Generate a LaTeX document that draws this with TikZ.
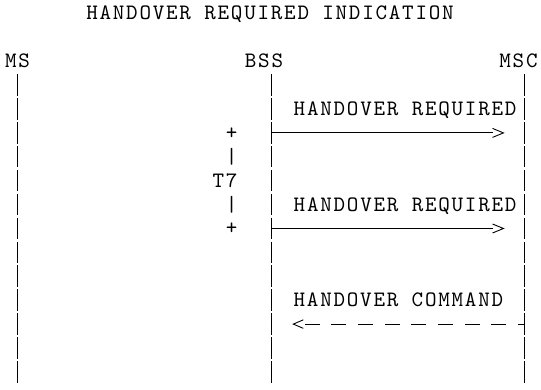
\documentclass[tikz,border=0pt]{standalone}
\usepackage{fontspec}
\usetikzlibrary{arrows.meta}
\newfontfamily\asciifont{lmmono10-regular}[Extension=.otf,LetterSpace=8]
\pgfdeclarearrow{
  name = Chev,
  parameters = {\the\pgfarrowlength,\the\pgfarrowwidth},
  setup code = {
    \pgfarrowssettipend{\pgfarrowlength}
    \pgfarrowssetlineend{0pt}
    \pgfarrowssetbackend{0pt}
    \pgfarrowssavethe\pgfarrowlength
    \pgfarrowssavethe\pgfarrowwidth
  },
  drawing code = {
    \pgfsetdash{}{0pt}
    \pgfpathmoveto{\pgfqpoint{0pt}{0.5\pgfarrowwidth}}
    \pgfpathlineto{\pgfqpoint{\pgfarrowlength}{0pt}}
    \pgfpathlineto{\pgfqpoint{0pt}{-0.5\pgfarrowwidth}}
    \pgfusepathqstroke
  },
  defaults = {length=11pt, width=9pt}
}
\begin{document}
\begin{tikzpicture}[x=1pt,y=-1pt,
  lbl/.style={inner sep=0pt,anchor=base,font=\asciifont\fontsize{22}{26}\selectfont},
  lifeline/.style={line width=1.2pt,dash pattern=on 21.5pt off 2.4pt},
  msgarrow/.style={line width=0.9pt,-{Chev[length=11pt,width=9pt]}},
  replyarrow/.style={line width=0.9pt,dash pattern=on 15pt off 11.67pt,dash phase=8.3pt,-{Chev[length=10pt,width=8.5pt]}}]
\useasboundingbox (0,0) rectangle (541,390);
% title and entity labels
\node[lbl] (title) at (270,20) {HANDOVER REQUIRED INDICATION};
\node[lbl] (ms) at (17.5,67.8) {MS};
\node[lbl] (bss) at (264,67.8) {BSS};
\node[lbl] (msc) at (518.5,67.8) {MSC};
% lifelines
\coordinate (mstop) at (17.8,74.3);
\coordinate (msbot) at (17.8,382.7);
\coordinate (bsstop) at (271.7,74.3);
\coordinate (bssbot) at (271.7,382.7);
\coordinate (msctop) at (524.7,74.3);
\coordinate (mscbot) at (524.7,382.7);
\draw[lifeline] (mstop) -- (msbot);
\draw[lifeline] (bsstop) -- (bssbot);
\draw[lifeline] (msctop) -- (mscbot);
% message labels
\node[lbl] (req1) at (405.1,115.6) {HANDOVER REQUIRED};
\node[lbl] (req2) at (405.1,211.2) {HANDOVER REQUIRED};
\node[lbl] (cmd) at (398.4,306.8) {HANDOVER COMMAND};
% timer T7
\node[lbl] (t7start) at (231.7,139.2) {+};
\node[lbl] (bar1) at (231.7,163.2) {|};
\node[lbl] (t7) at (225,187.3) {T7};
\node[lbl] (bar2) at (231.7,211.2) {|};
\node[lbl] (t7end) at (231.7,234.8) {+};
% messages
\coordinate (m1s) at (271.7,132.9);
\coordinate (m1e) at (503.5,132.9);
\coordinate (m2s) at (271.7,228.5);
\coordinate (m2e) at (503.5,228.5);
\coordinate (m3s) at (524.7,324.1);
\coordinate (m3e) at (293.3,324.1);
\draw[msgarrow] (m1s) -- (m1e);
\draw[msgarrow] (m2s) -- (m2e);
\draw[replyarrow] (m3s) -- (m3e);
\end{tikzpicture}
\end{document}
